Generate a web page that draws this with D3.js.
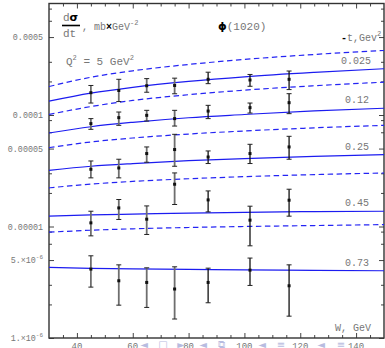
<!DOCTYPE html>
<html>
<head>
<meta charset="utf-8">
<script src="https://cdn.jsdelivr.net/npm/d3@7"></script>
<style>
body { margin: 0; background: #fff; }
text { font-family: "Liberation Mono", "DejaVu Sans Mono", monospace; fill: #777; }
</style>
</head>
<body>
<div id="chart"></div>
<script>
// W values of the data points (GeV)
var pointW = [45, 55, 65, 75, 87, 102, 116];
// -t values, one group of points and one solid curve each
var tLabels = ["0.025", "0.12", "0.25", "0.45", "0.73"];

// dsigma/dt of the points, with lower and upper ends of the error bars
var pointVal = [
    [1.585e-4, 1.66e-4, 1.83e-4, 1.84e-4, 2.09e-4, 2.06e-4, 2.09e-4],
    [8.37e-5, 9.47e-5, 9.93e-5, 9.28e-5, 1.085e-4, 1.164e-4, 1.29e-4],
    [3.26e-5, 3.35e-5, 4.51e-5, 4.90e-5, 4.20e-5, 4.51e-5, 5.17e-5],
    [1.078e-5, 1.468e-5, 1.163e-5, 2.394e-5, 1.732e-5, 1.14e-5, 1.721e-5],
    [4.15e-6, 3.26e-6, 3.15e-6, 2.75e-6, 3.15e-6, 4.06e-6, 2.94e-6]
];
var pointLow = [
    [1.28e-4, 1.32e-4, 1.60e-4, 1.55e-4, 1.91e-4, 1.81e-4, 1.69e-4],
    [7.44e-5, 8.08e-5, 8.83e-5, 7.96e-5, 9.28e-5, 1.041e-4, 1.028e-4],
    [2.73e-5, 2.73e-5, 3.77e-5, 3.47e-5, 3.67e-5, 3.67e-5, 4.01e-5],
    [8.24e-6, 1.156e-5, 8.48e-6, 1.575e-5, 1.352e-5, 6.71e-6, 1.238e-5],
    [2.86e-6, 1.97e-6, 1.88e-6, 1.48e-6, 2.07e-6, 2.96e-6, 1.57e-6]
];
var pointHigh = [
    [1.84e-4, 2.09e-4, 2.12e-4, 2.14e-4, 2.42e-4, 2.31e-4, 2.48e-4],
    [9.28e-5, 1.063e-4, 1.101e-4, 1.101e-4, 1.221e-4, 1.28e-4, 1.553e-4],
    [3.87e-5, 4.01e-5, 5.17e-5, 6.71e-5, 4.76e-5, 5.46e-5, 6.44e-5],
    [1.371e-5, 1.746e-5, 1.53e-5, 3.023e-5, 2.085e-5, 1.521e-5, 2.159e-5],
    [5.46e-6, 4.53e-6, 4.26e-6, 4.35e-6, 4.23e-6, 5.21e-6, 4.53e-6]
];

// model curves, read at these W
var curveW = [30, 45, 60, 80, 100, 125, 150];
var solidCurves = [
    [1.33e-4, 1.57e-4, 1.77e-4, 2.00e-4, 2.20e-4, 2.41e-4, 2.60e-4],
    [6.9e-5, 7.85e-5, 8.6e-5, 9.45e-5, 1.01e-4, 1.09e-4, 1.15e-4],
    [3.19e-5, 3.47e-5, 3.67e-5, 3.89e-5, 4.07e-5, 4.26e-5, 4.42e-5],
    [1.24e-5, 1.27e-5, 1.29e-5, 1.32e-5, 1.34e-5, 1.36e-5, 1.37e-5],
    [4.30e-6, 4.22e-6, 4.17e-6, 4.12e-6, 4.08e-6, 4.04e-6, 4.01e-6]
];
var dashedCurves = [
    [1.80e-4, 2.18e-4, 2.49e-4, 2.84e-4, 3.15e-4, 3.49e-4, 3.79e-4],
    [1.01e-4, 1.19e-4, 1.35e-4, 1.52e-4, 1.67e-4, 1.83e-4, 1.97e-4],
    [5.10e-5, 5.73e-5, 6.22e-5, 6.75e-5, 7.19e-5, 7.67e-5, 8.08e-5],
    [2.22e-5, 2.40e-5, 2.54e-5, 2.68e-5, 2.80e-5, 2.92e-5, 3.02e-5],
    [8.89e-6, 9.26e-6, 9.53e-6, 9.80e-6, 1.00e-5, 1.02e-5, 1.04e-5]
];

// axis ticks
var xTicks = [40, 60, 80, 100, 120, 140];
var yTicks = [1e-6, 5e-6, 1e-5, 5e-5, 1e-4, 5e-4];
var yTickText = [["1.\u00d710", "-6"], ["5.\u00d710", "-6"], ["0.00001"], ["0.00005"], ["0.0001"], ["0.0005"]];
var yMinor = [2e-6, 3e-6, 7e-6, 9e-6, 2e-5, 3e-5, 7e-5, 9e-5, 2e-4, 3e-4, 7e-4, 9e-4];

var width = 385, height = 348;
var box = {left: 49, right: 384, top: 3.5, bottom: 338};

var svg = d3.select("#chart").append("svg")
    .attr("width", width)
    .attr("height", height);

var x = d3.scaleLinear().domain([30, 150]).range([box.left, box.right]);
var y = d3.scaleLog().domain([1e-6, 1e-3]).range([box.bottom, box.top]);

// minor x ticks every 5 GeV
var xMinor = d3.range(35, 150, 5).filter(function (d) { return xTicks.indexOf(d) < 0; });

// draw ticks on all four sides, pointing inward
function ticks(axisFn, scale, values, size, pos) {
    var g = svg.append("g")
        .attr("transform", pos)
        .call(axisFn(scale).tickValues(values).tickSize(-size).tickFormat(""));
    g.select(".domain").remove();
    g.selectAll("line").attr("stroke", "#444");
}
ticks(d3.axisBottom, x, xTicks, 5, "translate(0," + box.bottom + ")");
ticks(d3.axisBottom, x, xMinor, 3, "translate(0," + box.bottom + ")");
ticks(d3.axisTop, x, xTicks, 5, "translate(0," + box.top + ")");
ticks(d3.axisTop, x, xMinor, 3, "translate(0," + box.top + ")");
ticks(d3.axisLeft, y, yTicks, 5, "translate(" + box.left + ",0)");
ticks(d3.axisLeft, y, yMinor, 3, "translate(" + box.left + ",0)");
ticks(d3.axisRight, y, yTicks, 5, "translate(" + box.right + ",0)");
ticks(d3.axisRight, y, yMinor, 3, "translate(" + box.right + ",0)");

// frame
svg.append("rect")
    .attr("x", box.left).attr("y", box.top)
    .attr("width", box.right - box.left).attr("height", box.bottom - box.top)
    .attr("fill", "none").attr("stroke", "#333").attr("stroke-width", 1.4);

// y tick labels
var yl = svg.selectAll(".ylab").data(yTicks).enter().append("text")
    .attr("class", "ylab")
    .attr("x", box.left - 6)
    .attr("y", function (d) { return y(d) + 3; })
    .attr("text-anchor", "end")
    .attr("font-size", 8.4);
yl.each(function (d, i) {
    var t = d3.select(this), parts = yTickText[i];
    t.append("tspan").text(parts[0]);
    if (parts[1]) {
        t.append("tspan").attr("dy", -4).attr("font-size", 6).text(parts[1]);
    }
});

// x tick labels (cut by the bottom edge)
svg.selectAll(".xlab").data(xTicks).enter().append("text")
    .attr("x", function (d) { return x(d); })
    .attr("y", 348.5)
    .attr("text-anchor", "middle")
    .attr("font-size", 9)
    .text(function (d) { return d; });

// curves
var line = d3.line()
    .x(function (d, i) { return x(curveW[i]); })
    .y(function (d) { return y(d); })
    .curve(d3.curveMonotoneX);

var plot = svg.append("g");
plot.selectAll(".dashed").data(dashedCurves).enter().append("path")
    .attr("d", line)
    .attr("fill", "none")
    .attr("stroke", "#2424f4")
    .attr("stroke-width", 1.2)
    .attr("stroke-dasharray", "5.5,3.5");
plot.selectAll(".solid").data(solidCurves).enter().append("path")
    .attr("d", line)
    .attr("fill", "none")
    .attr("stroke", "#1c1cf0")
    .attr("stroke-width", 1.2);

// error bars and points
pointVal.forEach(function (group, gi) {
    group.forEach(function (v, i) {
        var px = x(pointW[i]);
        var col = i < 4 ? "#6e6e6e" : "#111";
        var sw = i < 4 ? 1.8 : 1.3;
        var g = plot.append("g");
        g.append("line")
            .attr("x1", px).attr("x2", px)
            .attr("y1", y(pointLow[gi][i])).attr("y2", y(pointHigh[gi][i]))
            .attr("stroke", col).attr("stroke-width", sw);
        [pointLow[gi][i], pointHigh[gi][i]].forEach(function (e) {
            g.append("line")
                .attr("x1", px - 2.5).attr("x2", px + 2.5)
                .attr("y1", y(e)).attr("y2", y(e))
                .attr("stroke", "#222").attr("stroke-width", 1);
        });
        g.append("rect")
            .attr("x", px - 1.5).attr("y", y(v) - 1.5)
            .attr("width", 3).attr("height", 3)
            .attr("fill", "#111");
    });
});

// -t labels next to the solid curves
var labelX = [341, 345, 345, 345, 345];
svg.selectAll(".tlab").data(tLabels).enter().append("text")
    .attr("x", function (d, i) { return labelX[i]; })
    .attr("y", function (d, i) { return y(solidCurves[i][6]) - 5; })
    .attr("font-size", 10)
    .text(function (d) { return d; });

// dsigma/dt title
svg.append("text").attr("x", 63).attr("y", 21).attr("font-size", 11)
    .html('d<tspan style="fill:#000;font-weight:bold;font-family:\'DejaVu Sans\'">\u03c3</tspan>');
svg.append("line").attr("x1", 62).attr("x2", 80).attr("y1", 25.5).attr("y2", 25.5)
    .attr("stroke", "#000").attr("stroke-width", 1.6);
svg.append("text").attr("x", 63).attr("y", 37).attr("font-size", 11).text("dt");
var unit = svg.append("text").attr("x", 82).attr("y", 30).attr("font-size", 10);
unit.append("tspan").text(", mb");
unit.append("tspan").style("fill", "#000").style("font-weight", "bold").text("\u00d7");
unit.append("tspan").text("GeV");
unit.append("tspan").attr("dy", -5).attr("font-size", 7).text("-2");

// particle name
var phi = svg.append("text").attr("x", 218).attr("y", 30).attr("font-size", 11);
phi.append("tspan").style("fill", "#000").style("font-weight", "bold")
    .style("font-family", "'DejaVu Sans'").text("\u03d5");
phi.append("tspan").text("(1020)");

// -t legend title
var tt = svg.append("text").attr("x", 341).attr("y", 41).attr("font-size", 10);
tt.append("tspan").style("fill", "#000").style("font-weight", "bold").text("-");
tt.append("tspan").text("t,Gev");
tt.append("tspan").attr("dy", -5).attr("font-size", 7).text("2");

// Q2 note
var q = svg.append("text").attr("x", 66).attr("y", 65).attr("font-size", 11);
q.append("tspan").text("Q");
q.append("tspan").attr("dy", -5).attr("font-size", 7).text("2");
q.append("tspan").attr("dy", 5).text(" = 5 GeV");
q.append("tspan").attr("dy", -5).attr("font-size", 7).text("2");

// x axis title
svg.append("text").attr("x", 335).attr("y", 331).attr("font-size", 10).text("W,  GeV");

// viewer navigation symbols along the bottom
var navX = [144, 163, 181, 203, 221, 262, 281, 321, 341];
var navGlyph = ["\u25c4", "\u25a1", "\u25ba", "\u25c4", "\u29c9", "\u25c4", "\u2261", "\u25c4", "\u2261"];
svg.selectAll(".nav").data(navGlyph).enter().append("text")
    .attr("x", function (d, i) { return navX[i]; })
    .attr("y", 348)
    .attr("text-anchor", "middle")
    .attr("font-size", 10)
    .style("font-family", "'DejaVu Sans'")
    .style("fill", "#b8bce0")
    .text(function (d) { return d; });
</script>
</body>
</html>
